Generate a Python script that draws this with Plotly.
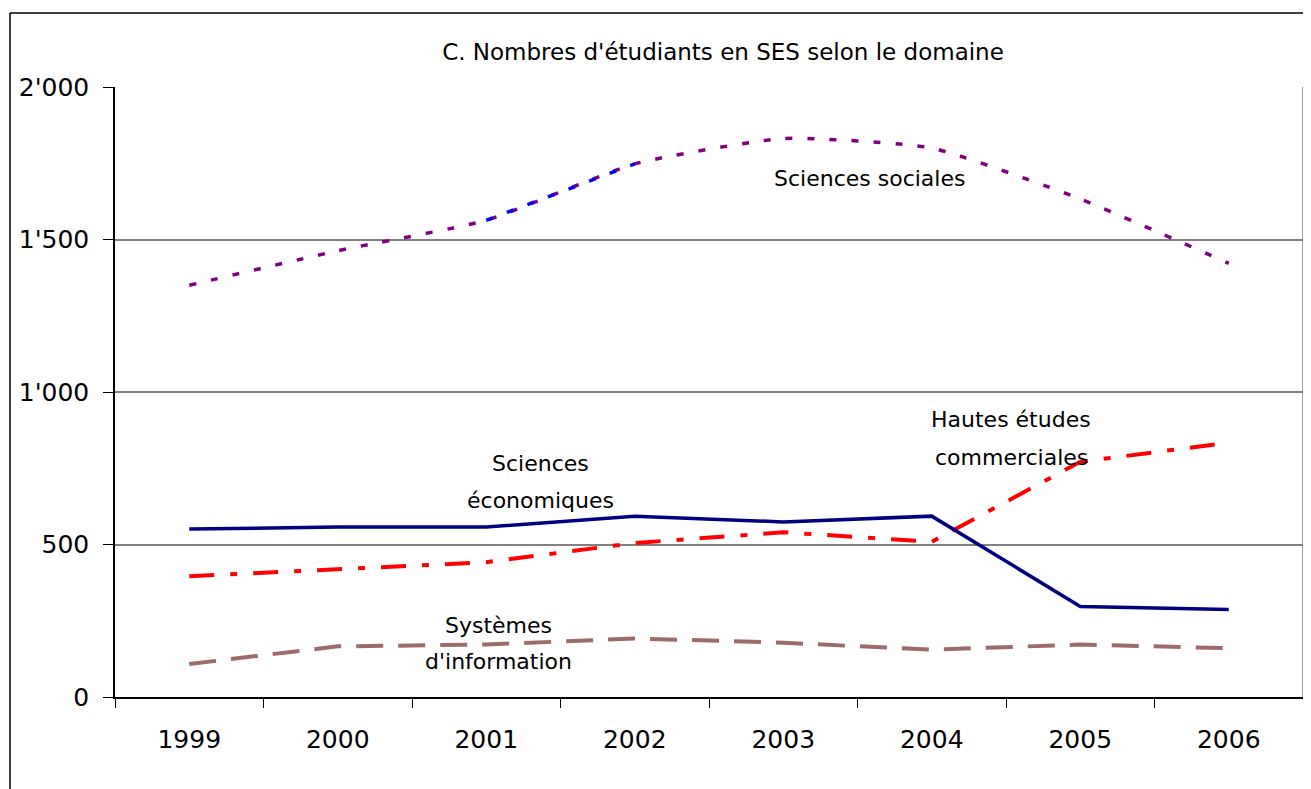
import plotly.graph_objects as go

years = ["1999", "2000", "2001", "2002", "2003", "2004", "2005", "2006"]
sciences_sociales = [1350, 1463, 1563, 1748, 1831, 1800, 1633, 1422]
sciences_economiques = [551, 557, 557, 593, 574, 593, 297, 287]
hautes_etudes_commerciales = [396, 418, 442, 505, 540, 509, 771, 834]
systemes_information = [108, 166, 172, 192, 178, 155, 172, 160]
y_tickvals = [0, 500, 1000, 1500, 2000]
y_ticktext = ["0", "500", "1'000", "1'500", "2'000"]

FONT = "'DejaVu Sans', sans-serif"
OFF = 8  # page body margin offset of the figure on screen
W, H = 1303, 781
# screen-pixel targets
S_LEFT, S_RIGHT, S_TOP, S_BOTTOM = 115, 1303, 87, 697
L = S_LEFT - OFF
T = S_TOP - OFF
R = W - (S_RIGHT - OFF)
B = H - (S_BOTTOM - OFF)
PW, PH = S_RIGHT - S_LEFT, S_BOTTOM - S_TOP

def px2paper_x(px):
    return (px - S_LEFT) / PW

def px2paper_y(py):
    return (S_BOTTOM - py) / PH

fig = go.Figure()

fig.add_trace(go.Scatter(x=years, y=systemes_information, mode="lines",
                         line=dict(color="#9E6A6A", width=4, dash="27px,15px"),
                         showlegend=False, hoverinfo="skip"))
fig.add_trace(go.Scatter(x=years, y=hautes_etudes_commerciales, mode="lines",
                         line=dict(color="#FF0000", width=4, dash="25px,16px,7px,16px"),
                         showlegend=False))
fig.add_trace(go.Scatter(x=years, y=sciences_economiques, mode="lines",
                         line=dict(color="#000080", width=3.5),
                         showlegend=False))
fig.add_trace(go.Scatter(x=years, y=sciences_sociales, mode="lines",
                         line=dict(color="#800080", width=3.5, dash="7px,15px",
                                   shape="spline", smoothing=0.5),
                         showlegend=False))
# highlighted segment 2001-2002 drawn in blue in the original
fig.add_trace(go.Scatter(x=years[2:4], y=sciences_sociales[2:4], mode="lines",
                         line=dict(color="#0000FF", width=3.5, dash="7px,15px"),
                         showlegend=False))

annotations = [
    ("Sciences sociales", 869, 178),
    ("Sciences", 540, 463),
    ("économiques", 540, 500),
    ("Hautes études", 1011, 419),
    ("commerciales", 1011, 457),
    ("Systèmes", 498, 625),
    ("d'information", 498, 661),
]
for text, ax, ay in annotations:
    fig.add_annotation(text=text, x=px2paper_x(ax), y=px2paper_y(ay),
                       xref="paper", yref="paper", showarrow=False,
                       xanchor="center", yanchor="middle",
                       font=dict(family=FONT, size=22, color="#000000"))

# outer chart frame (top and left edges visible)
fig.add_shape(type="line", xref="paper", yref="paper",
              x0=px2paper_x(10), x1=px2paper_x(1320), y0=px2paper_y(13), y1=px2paper_y(13),
              line=dict(color="#000000", width=1.5))
fig.add_shape(type="line", xref="paper", yref="paper",
              x0=px2paper_x(10), x1=px2paper_x(10), y0=px2paper_y(13), y1=px2paper_y(800),
              line=dict(color="#000000", width=1.5))
# right edge of plot area
fig.add_shape(type="line", xref="paper", yref="paper",
              x0=1, x1=1, y0=0, y1=1, line=dict(color="#808080", width=1.5))

fig.update_layout(
    width=W, height=H,
    margin=dict(l=L, r=R, t=T, b=B, autoexpand=False),
    paper_bgcolor="white", plot_bgcolor="white",
    title=dict(text="C. Nombres d'étudiants en SES selon le domaine",
               x=px2paper_x(723), xref="paper", xanchor="center",
               y=1 - (52 - OFF) / H, yref="container", yanchor="middle",
               font=dict(family=FONT, size=23, color="#000000")),
    xaxis=dict(type="category", range=[-0.5, 7.5], tickson="boundaries",
               ticks="outside", ticklen=9, tickcolor="#000000",
               showline=True, linecolor="#000000", linewidth=1.5,
               showgrid=False, ticklabelstandoff=19,
               tickfont=dict(family=FONT, size=25, color="#000000")),
    yaxis=dict(range=[0, 2000], tickvals=y_tickvals, ticktext=y_ticktext,
               ticks="outside", ticklen=10, tickcolor="#000000",
               showline=True, linecolor="#000000", linewidth=1.5,
               showgrid=True, gridcolor="#808080", gridwidth=1.5,
               zeroline=False, ticklabelstandoff=9,
               tickfont=dict(family=FONT, size=25, color="#000000")),
)

fig.write_html("out.html")
